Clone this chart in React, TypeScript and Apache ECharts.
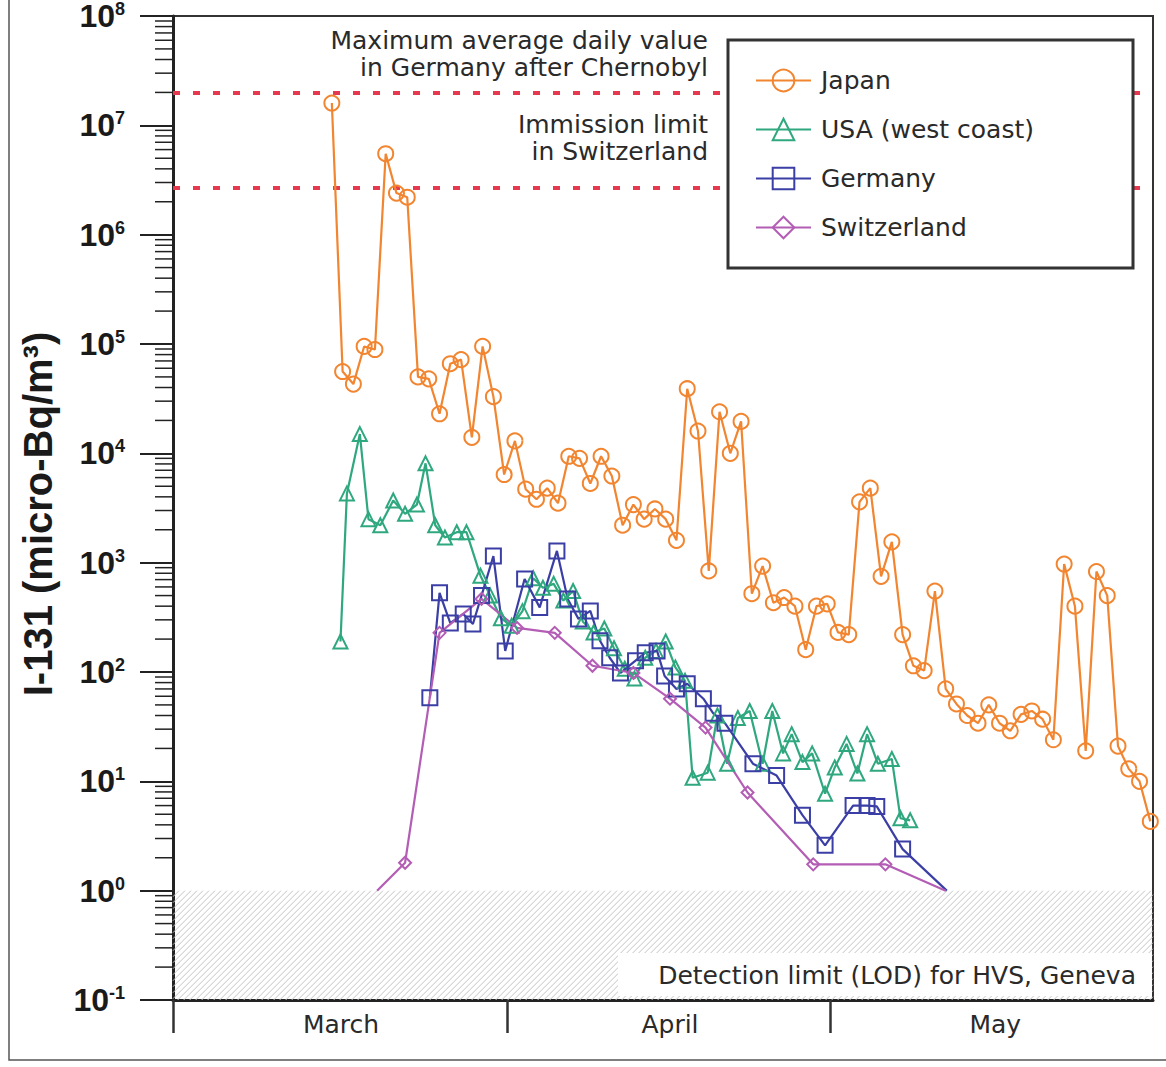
import React, { useEffect, useRef } from 'react';
import * as echarts from 'echarts';

// ---- axis settings (days counted from 1 March) ----
const X_MIN = 0.25;
const X_MAX = 91.25;
const MONTH_TICKS = [0.25, 31.25, 61.25];
const MONTH_LABEL_POS = [15.85, 46.4, 76.6];
const MONTHS = ['March', 'April', 'May'];
const Y_MIN = 0.1;
const Y_MAX = 1e8;
const MINOR_MULTIPLIERS = [2, 3, 4, 5, 6, 7, 8, 9];
const DECADES = [-1, 0, 1, 2, 3, 4, 5, 6, 7];

// ---- reference levels ----
const LOD = 1;
const CHERNOBYL_MAX = 2.0e7;
const SWISS_LIMIT = 2.7e6;

// ---- series data (micro-Bq/m3) ----
const JAPAN_START_DAY = 15;
const JAPAN = [
  1.6e7, 5.6e4, 4.3e4, 9.5e4, 8.9e4, 5.5e6, 2.4e6, 2.2e6, 5.0e4, 4.8e4,
  2.3e4, 6.6e4, 7.2e4, 1.4e4, 9.5e4, 3.3e4, 6.4e3, 1.3e4, 4.7e3, 3.8e3,
  4.8e3, 3.5e3, 9.4e3, 9.0e3, 5.3e3, 9.4e3, 6.2e3, 2.2e3, 3.4e3, 2.5e3,
  3.1e3, 2.5e3, 1.6e3, 3.9e4, 1.6e4, 840, 2.4e4, 1.0e4, 1.96e4, 520,
  930, 430, 480, 400, 160, 400, 420, 230, 220, 3.6e3,
  4.8e3, 750, 1.55e3, 220, 114, 103, 550, 70, 51, 40,
  34, 50, 34, 29, 41, 44, 37, 24, 970, 400,
  19, 830, 500, 21, 13, 10, 4.3,
];

const USA_DAYS = [
  15.8, 16.4, 17.6, 18.4, 19.5, 20.7, 21.8, 22.9, 23.7, 24.6,
  25.5, 26.6, 27.5, 28.8, 29.7, 30.7, 31.7, 32.7, 33.7, 34.6,
  35.6, 36.5, 37.4, 38.3, 39.3, 40.3, 41.2, 42.2, 43.1, 44.1,
  45.1, 46.0, 46.9, 47.8, 48.5, 49.9, 50.8, 51.7, 52.7, 53.8,
  55.0, 55.9, 56.9, 57.7, 58.7, 59.6, 60.8, 61.7, 62.8, 63.8,
  64.7, 65.7, 67.0, 67.8, 68.7,
];
const USA = [
  190, 4300, 15000, 2500, 2200, 3700, 2800, 3400, 8100, 2200,
  1700, 1900, 1900, 760, 500, 310, 265, 360, 720, 590,
  640, 450, 550, 290, 230, 250, 165, 107, 87, 135,
  156, 190, 110, 83, 10.8, 12, 40, 14.5, 38, 44,
  14.5, 44, 18, 27, 15, 18, 7.7, 13.4, 22, 11.8,
  27, 14.5, 16, 4.6, 4.4,
];

const GERMANY_DAYS = [
  24.1, 25.0, 26.0, 27.2, 28.1, 28.9, 30.0, 31.1, 32.9, 34.3,
  35.9, 36.9, 37.9, 39.0, 39.9, 40.8, 41.8, 43.2, 44.1, 45.2,
  45.9, 47.0, 48.0, 49.5, 50.4, 51.5, 54.1, 56.3, 58.7, 60.8,
  63.4, 64.7, 65.6, 68.0, 72.1,
];
const GERMANY = [
  58, 530, 280, 340, 275, 500, 1150, 156, 710, 390,
  1280, 466, 306, 362, 193, 135, 98, 127, 150, 156,
  92, 70, 78, 57, 42, 34, 14.5, 11.3, 4.9, 2.6,
  6.0, 6.0, 5.9, 2.4, 1.0,
];

const SWISS_DAYS = [19.2, 21.8, 25.0, 28.9, 32.2, 35.7, 39.2, 43.0, 46.4, 49.7, 53.6, 59.7, 66.4, 72.0];
const SWISS = [1.0, 1.8, 228, 466, 253, 228, 114, 98, 57, 31, 7.9, 1.74, 1.74, 1.0];

const C_JAPAN = '#F28530';
const C_USA = '#2FA87F';
const C_GERMANY = '#3B3FA5';
const C_SWISS = '#B35DB5';
const C_REF = '#E63950';
const TXT = '#2a2a2a';
const FONT = 'DejaVu Sans';

export default function App() {
  const ref = useRef<HTMLDivElement>(null);

  useEffect(() => {
    const chart = echarts.init(ref.current as HTMLDivElement, null, { renderer: 'svg' });

    const japanData = JAPAN.map((v, i) => [JAPAN_START_DAY + i, v]);
    const usaData = USA.map((v, i) => [USA_DAYS[i], v]);
    const germanyData = GERMANY.map((v, i) =>
      i === GERMANY.length - 1 ? { value: [GERMANY_DAYS[i], v], symbol: 'none' } : [GERMANY_DAYS[i], v]
    );
    const swissData = SWISS.map((v, i) =>
      i === 0 || i === SWISS.length - 1 ? { value: [SWISS_DAYS[i], v], symbol: 'none' } : [SWISS_DAYS[i], v]
    );
    const minorTicks: number[][] = [];
    DECADES.forEach((d) => MINOR_MULTIPLIERS.forEach((m) => minorTicks.push([X_MIN, m * Math.pow(10, d)])));

    const lineSeries = (name: string, color: string, symbol: string, size: number, data: any[]) => ({
      name,
      type: 'line',
      data,
      symbol,
      symbolSize: size,
      showAllSymbol: true,
      z: 2,
      lineStyle: { color, width: 2.2 },
      itemStyle: { color: 'rgba(255,255,255,0)', borderColor: color, borderWidth: 2 },
      emphasis: { disabled: true },
    });

    const option: any = {
      animation: false,
      backgroundColor: '#ffffff',
      grid: {
        left: 173,
        top: 14,
        width: 980,
        height: 986,
        show: true,
        borderColor: '#333',
        borderWidth: 2,
        backgroundColor: 'transparent',
      },
      xAxis: {
        type: 'value',
        min: X_MIN,
        max: X_MAX,
        splitLine: { show: false },
        axisLine: { lineStyle: { color: '#222', width: 3 } },
        axisTick: {
          customValues: MONTH_TICKS,
          length: 33,
          lineStyle: { color: '#333', width: 2.5 },
        },
        axisLabel: {
          customValues: MONTH_LABEL_POS,
          margin: 12,
          fontSize: 25,
          fontFamily: FONT,
          color: TXT,
          formatter: (v: number) => {
            const i = MONTH_LABEL_POS.findIndex((p) => Math.abs(p - v) < 0.01);
            return i >= 0 ? MONTHS[i] : '';
          },
        },
      },
      yAxis: {
        type: 'log',
        logBase: 10,
        min: Y_MIN,
        max: Y_MAX,
        splitNumber: 9,
        splitLine: { show: false },
        axisLine: { lineStyle: { color: '#222', width: 3 } },
        axisTick: { length: 33, lineStyle: { color: '#222', width: 2 } },
        axisLabel: {
          margin: 48,
          formatter: (v: number) => `{b|10}{e|${Math.round(Math.log10(v))}}`,
          rich: {
            b: { fontSize: 32, fontWeight: 'bold', fontFamily: 'Liberation Sans', color: '#1a1a1a', lineHeight: 32 },
            e: { fontSize: 18, fontWeight: 'bold', fontFamily: 'Liberation Sans', color: '#1a1a1a', verticalAlign: 'top', lineHeight: 18 },
          },
        },
      },
      legend: {
        data: ['Japan', 'USA (west coast)', 'Germany', 'Switzerland'],
        orient: 'vertical',
        left: 750,
        top: 63,
        itemWidth: 55,
        itemHeight: 27,
        itemGap: 24,
        z: 30,
        textStyle: { fontSize: 25, fontFamily: FONT, color: TXT, padding: [0, 0, 0, 5] },
      },
      graphic: [
        { type: 'rect', z: 1, silent: true, shape: { x: 9, y: -10, width: 1180, height: 1070 }, style: { fill: 'none', stroke: '#555', lineWidth: 1.5 } },
        { type: 'rect', z: 20, silent: true, shape: { x: 728, y: 40, width: 405, height: 228 }, style: { fill: '#fff', stroke: '#333', lineWidth: 3 } },
        { type: 'rect', z: 20, silent: true, shape: { x: 618, y: 953, width: 534, height: 43 }, style: { fill: '#fff' } },
        { type: 'text', z: 21, silent: true, x: 1136, y: 975, style: { text: 'Detection limit (LOD) for HVS, Geneva', fill: TXT, font: `25px "${FONT}"`, textAlign: 'right', textVerticalAlign: 'middle' } },
        { type: 'text', z: 21, silent: true, x: 708, y: 40, style: { text: 'Maximum average daily value', fill: TXT, font: `25px "${FONT}"`, textAlign: 'right', textVerticalAlign: 'middle' } },
        { type: 'text', z: 21, silent: true, x: 708, y: 67, style: { text: 'in Germany after Chernobyl', fill: TXT, font: `25px "${FONT}"`, textAlign: 'right', textVerticalAlign: 'middle' } },
        { type: 'text', z: 21, silent: true, x: 708, y: 124, style: { text: 'Immission limit', fill: TXT, font: `25px "${FONT}"`, textAlign: 'right', textVerticalAlign: 'middle' } },
        { type: 'text', z: 21, silent: true, x: 708, y: 151, style: { text: 'in Switzerland', fill: TXT, font: `25px "${FONT}"`, textAlign: 'right', textVerticalAlign: 'middle' } },
        { type: 'text', z: 21, silent: true, x: 38, y: 514, rotation: Math.PI / 2, style: { text: 'I-131 (micro-Bq/m³)', fill: '#1a1a1a', font: 'bold 40px "Liberation Sans"', textAlign: 'center', textVerticalAlign: 'middle' } },
      ],
      series: [
        {
          name: 'hatch',
          type: 'custom',
          silent: true,
          z: 1,
          data: [[X_MIN, LOD]],
          renderItem: (_p: any, api: any) => {
            const tl = api.coord([X_MIN, LOD]);
            const br = api.coord([X_MAX, Y_MIN]);
            const x0 = tl[0], y0 = tl[1], x1 = br[0], y1 = br[1];
            const h = y1 - y0;
            const children: any[] = [];
            for (let s = x0 - h; s < x1; s += 6) {
              let ax = s, ay = y1, bx = s + h, by = y0;
              if (ax < x0) { ay -= x0 - ax; ax = x0; }
              if (bx > x1) { by += bx - x1; bx = x1; }
              if (ax >= bx) continue;
              children.push({ type: 'line', shape: { x1: ax, y1: ay, x2: bx, y2: by }, style: { stroke: '#c4c4c4', lineWidth: 1 } });
            }
            return { type: 'group', children };
          },
        },
        {
          name: 'minorTicks',
          type: 'custom',
          silent: true,
          clip: false,
          z: 5,
          data: minorTicks,
          renderItem: (_p: any, api: any) => {
            const p = api.coord([api.value(0), api.value(1)]);
            return { type: 'line', shape: { x1: p[0] - 18, y1: p[1], x2: p[0], y2: p[1] }, style: { stroke: '#222', lineWidth: 1.5 } };
          },
        },
        {
          ...lineSeries('Japan', C_JAPAN, 'circle', 15, japanData),
          markLine: {
            silent: true,
            z: 1,
            symbol: ['none', 'none'],
            label: { show: false },
            lineStyle: { color: C_REF, width: 4, type: [7, 13] },
            data: [{ yAxis: CHERNOBYL_MAX }, { yAxis: SWISS_LIMIT }],
          },
        },
        lineSeries('USA (west coast)', C_USA, 'triangle', 14, usaData),
        lineSeries('Germany', C_GERMANY, 'rect', 15, germanyData),
        lineSeries('Switzerland', C_SWISS, 'diamond', 12, swissData),
      ],
    };

    chart.setOption(option);
    return () => chart.dispose();
  }, []);

  return (
    <div
      ref={ref}
      style={{ position: 'fixed', left: 0, top: 0, width: 1166, height: 1067, background: '#fff' }}
    />
  );
}
